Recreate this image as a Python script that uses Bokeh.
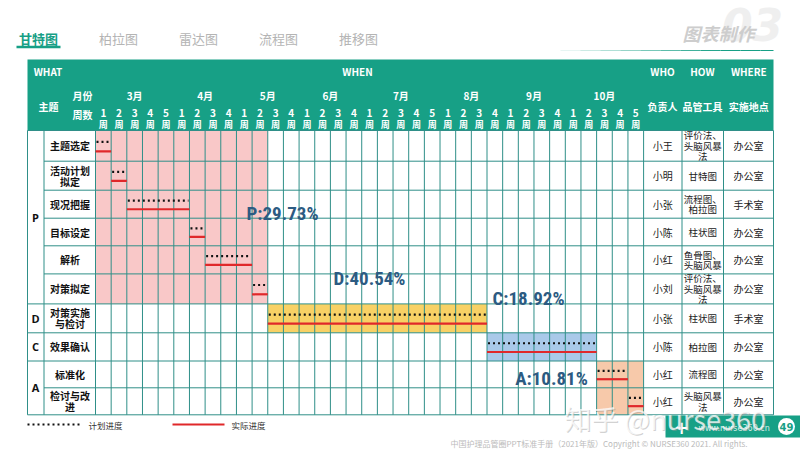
from bokeh.plotting import figure
from bokeh.models import Range1d
from bokeh.core.properties import value
from bokeh.embed import file_html
from bokeh.resources import INLINE

# ---------------- data ----------------
tabs = ["甘特图", "柏拉图", "雷达图", "流程图", "推移图"]
months = ["3月", "4月", "5月", "6月", "7月", "8月", "9月", "10月"]
weeks_per_month = [5, 4, 4, 4, 5, 4, 4, 5]
phases = ["P", "D", "C", "A"]
phase_pct = ["P:29.73%", "D:40.54%", "C:18.92%", "A:10.81%"]
tasks = ["主题选定", "活动计划\n拟定", "现况把握", "目标设定", "解析", "对策拟定",
         "对策实施\n与检讨", "效果确认", "标准化", "检讨与改\n进"]
task_phase = ["P", "P", "P", "P", "P", "P", "D", "C", "A", "A"]
plan_start = [1, 2, 3, 7, 8, 11, 12, 26, 33, 35]
plan_end = [1, 2, 6, 7, 10, 11, 25, 32, 34, 35]
actual_start = [1, 2, 3, 7, 8, 11, 12, 26, 33, 35]
actual_end = [1, 2, 6, 7, 10, 11, 25, 32, 34, 35]
who = ["小王", "小明", "小张", "小陈", "小红", "小刘", "小张", "小陈", "小红", "小红"]
how = ["评价法、\n头脑风暴\n法", "甘特图", "流程图、\n柏拉图", "柱状图", "鱼骨图、\n头脑风暴",
       "评价法、\n头脑风暴\n法", "柱状图", "柏拉图", "流程图", "头脑风暴\n法"]
where = ["办公室", "办公室", "手术室", "办公室", "办公室", "办公室", "手术室", "办公室", "办公室", "办公室"]
legend_labels = ["计划进度", "实际进度"]

# ---------------- layout / style ----------------
TEAL = "#17a086"
GRID = "#2f8f88"
PCT_COLOR = "#2c5b82"
RED = "#e0282a"
PHASE_FILL = {"P": "#f9c8c8", "D": "#f8d165", "C": "#a9c9e9", "A": "#f7c9aa"}
CJK = "Noto Sans CJK SC"
NARROW = "Roboto Condensed"

X0, X_ITEM, XW, CW = 27, 43.5, 95, 15.66
NW = sum(weeks_per_month)
X_WHO = XW + NW * CW
X_HOW, X_WHERE, X1 = 681.5, 723, 773
Y_HEAD, Y_DATA = 59, 130
ROW_Y = [130, 160.7, 189.7, 217.7, 245.3, 273.4, 303.4, 332.3, 360.5, 387.3, 414.3]
PCT_POS = [(282, 213), (369, 278), (528, 298), (551, 378)]


def wl(w):  # left edge of 1-based week
    return XW + (w - 1) * CW


def wr(w):  # right edge of 1-based week
    return XW + w * CW


def split_lines(xs, ys, labels, spacing):
    ox, oy, ot = [], [], []
    for x, y, t in zip(xs, ys, labels):
        parts = t.split("\n")
        n = len(parts)
        for k, s in enumerate(parts):
            ox.append(x)
            oy.append(y + (k - (n - 1) / 2) * spacing)
            ot.append(s)
    return ox, oy, ot


p = figure(width=800, height=450, x_range=Range1d(0, 800), y_range=Range1d(450, 0),
           output_backend="svg", toolbar_location=None, min_border=0)
p.axis.visible = False
p.grid.visible = False
p.outline_line_color = None
p.background_fill_color = "white"

# ---- tabs ----
tab_x = [38 + 80 * i for i in range(len(tabs))]
p.text(x=tab_x[:1], y=[38], text=tabs[:1], text_font=value(CJK), text_font_size="13px",
       text_font_style="bold", text_color=TEAL, text_align="center", text_baseline="middle")
p.text(x=tab_x[1:], y=[38] * 4, text=tabs[1:], text_font=value(CJK), text_font_size="13px",
       text_color="#b4b4b4", text_align="center", text_baseline="middle")
p.segment(x0=[16], y0=[46.5], x1=[60], y1=[46.5], line_color=TEAL, line_width=2.5)

# top-right decoration
p.text(x=[752], y=[24], text=["03"], text_font=value("DejaVu Sans"), text_font_size="44px",
       text_font_style="bold italic", text_color="#efefef", text_align="center", text_baseline="middle")
p.text(x=[718], y=[32], text=["图表制作"], text_font=value(CJK), text_font_size="18px",
       text_font_style="bold italic", text_color="#cdcdcd", text_align="center", text_baseline="middle")
fade = [(560 + i * 20, 560 + (i + 1) * 20) for i in range(11)]
p.segment(x0=[a for a, b in fade], y0=[50] * len(fade), x1=[min(b, X1) for a, b in fade], y1=[50] * len(fade),
          line_color=TEAL, line_width=1, line_alpha=[min(1, 0.1 + 0.12 * i) for i in range(len(fade))])

# ---- header ----
p.quad(left=[X0], right=[X1], top=[Y_HEAD], bottom=[Y_DATA], fill_color=TEAL, line_color=None)
hdr = dict(text_font=value(CJK), text_color="white", text_font_style="bold",
           text_align="center", text_baseline="middle")
p.text(x=[47.5, 357, 662, 702, 748.3], y=[71] * 5,
       text=["WHAT", "WHEN", "WHO", "HOW", "WHERE"], text_font_size="10px", **hdr)
p.text(x=[48, 82, 82, 662, 702, 748.3], y=[106, 95, 114, 106, 106, 106],
       text=["主题", "月份", "周数", "负责人", "品管工具", "实施地点"], text_font_size="10px", **hdr)
m_x, w_num, cum = [], [], 0
for n in weeks_per_month:
    m_x.append(XW + (cum + n / 2) * CW)
    w_num += [str(i + 1) for i in range(n)]
    cum += n
p.text(x=m_x, y=[95] * len(months), text=months, text_font_size="10px", **hdr)
w_x = [XW + (i + 0.5) * CW for i in range(NW)]
p.text(x=w_x, y=[112] * NW, text=w_num, text_font_size="10px", **hdr)
p.text(x=w_x, y=[124] * NW, text=["周"] * NW, text_font_size="9px", **hdr)

# ---- phase shading (spans derived from task data) ----
for ph in phases:
    idx = [i for i, t in enumerate(task_phase) if t == ph]
    w0 = min(min(plan_start[i] for i in idx), min(actual_start[i] for i in idx))
    w1 = max(max(plan_end[i] for i in idx), max(actual_end[i] for i in idx))
    p.quad(left=[wl(w0)], right=[wr(w1)], top=[ROW_Y[idx[0]]], bottom=[ROW_Y[idx[-1] + 1]],
           fill_color=PHASE_FILL[ph], line_color=None)

# ---- grid ----
vx = [X0, X_ITEM] + [XW + i * CW for i in range(NW + 1)] + [X_HOW, X_WHERE, X1]
p.segment(x0=vx, y0=[Y_DATA] * len(vx), x1=vx, y1=[ROW_Y[-1]] * len(vx), line_color=GRID, line_width=1)
p.segment(x0=[X_ITEM] * len(ROW_Y), y0=ROW_Y, x1=[X1] * len(ROW_Y), y1=ROW_Y, line_color=GRID, line_width=1)
ph_bounds = [ROW_Y[0]] + [ROW_Y[i + 1] for i in range(len(tasks))
                         if i == len(tasks) - 1 or task_phase[i] != task_phase[i + 1]]
p.segment(x0=[X0] * len(ph_bounds), y0=ph_bounds, x1=[X_ITEM] * len(ph_bounds), y1=ph_bounds,
          line_color=GRID, line_width=1)

# ---- left labels ----
ph_y = []
for ph in phases:
    idx = [i for i, t in enumerate(task_phase) if t == ph]
    ph_y.append((ROW_Y[idx[0]] + ROW_Y[idx[-1] + 1]) / 2)
p.text(x=[35] * 4, y=ph_y, text=phases, text_font=value("Open Sans"), text_font_size="11px",
       text_font_style="bold", text_color="#111111", text_align="center", text_baseline="middle")
row_c = [(ROW_Y[i] + ROW_Y[i + 1]) / 2 for i in range(len(tasks))]
tx, ty, tt = split_lines([69.5] * len(tasks), row_c, tasks, 11)
p.text(x=tx, y=ty, text=tt, text_font=value(CJK), text_font_size="10px",
       text_font_style="bold", text_color="#111111", text_align="center", text_baseline="middle")

# ---- right columns ----
cell = dict(text_font=value(CJK), text_color="#222222", text_align="center", text_baseline="middle")
p.text(x=[(X_WHO + X_HOW) / 2] * len(who), y=row_c, text=who, text_font_size="10px", **cell)
hx, hy, ht = split_lines([(X_HOW + X_WHERE) / 2] * len(how), row_c, how, 10.5)
p.text(x=hx, y=hy, text=ht, text_font_size="9.5px", **cell)
p.text(x=[(X_WHERE + X1) / 2] * len(where), y=row_c, text=where, text_font_size="10px", **cell)

# ---- plan / actual bars ----
plan_y = [ROW_Y[i] + 0.37 * (ROW_Y[i + 1] - ROW_Y[i]) for i in range(len(tasks))]
act_y = [ROW_Y[i] + 0.68 * (ROW_Y[i + 1] - ROW_Y[i]) for i in range(len(tasks))]
p.segment(x0=[wl(s) + 1 for s in plan_start], y0=plan_y, x1=[wr(e) - 1 for e in plan_end], y1=plan_y,
          line_color="#111111", line_width=2.2, line_dash="2 3", line_cap="butt")
p.segment(x0=[wl(s) for s in actual_start], y0=act_y, x1=[wr(e) for e in actual_end], y1=act_y,
          line_color=RED, line_width=2.2)

# ---- phase percentages ----
p.text(x=[a for a, b in PCT_POS], y=[b for a, b in PCT_POS], text=phase_pct,
       text_font=value(NARROW), text_font_size="19px", text_font_style="bold",
       text_color=PCT_COLOR, text_align="center", text_baseline="middle")

# ---- legend ----
p.segment(x0=[27], y0=[424], x1=[80], y1=[424], line_color="#111111", line_width=2.2,
          line_dash="2 3", line_cap="butt")
p.segment(x0=[172], y0=[424], x1=[224], y1=[424], line_color=RED, line_width=2.2)
p.text(x=[88, 231], y=[424, 424], text=legend_labels, text_font=value(CJK), text_font_size="8.5px",
       text_color="#333333", text_align="left", text_baseline="middle")

# ---- footer decorations ----
p.quad(left=[665], right=[800], top=[415], bottom=[437], fill_color=TEAL, line_color=None)
p.text(x=[681], y=[427], text=["+"], text_font=value("DejaVu Sans"), text_font_size="17px",
       text_font_style="bold", text_color="white", text_align="center", text_baseline="middle")
p.text(x=[698], y=[428], text=["www.nurse360.cn"], text_font=value("DejaVu Sans"), text_font_size="8px",
       text_color="#d8efea", text_align="left", text_baseline="middle")
p.scatter(x=[786], y=[426], size=17, marker="circle", fill_color="white", line_color=None)
p.text(x=[786], y=[426.5], text=["49"], text_font=value("DejaVu Sans"), text_font_size="10px",
       text_font_style="bold", text_color=TEAL, text_align="center", text_baseline="middle")
p.text(x=[565], y=[419], text=["知乎 @nurse360"], text_font=value(CJK), text_font_size="27px",
       text_color="#9a9a9a", text_alpha=0.45, text_align="left", text_baseline="middle")
p.text(x=[564], y=[418], text=["知乎 @nurse360"], text_font=value(CJK), text_font_size="27px",
       text_color="white", text_alpha=0.75, text_align="left", text_baseline="middle")
p.text(x=[450], y=[443], text=["中国护理品管圈PPT标准手册（2021年版）Copyright © NURSE360 2021. All rights."],
       text_font=value(CJK), text_font_size="8px", text_color="#bbbbbb", text_align="left",
       text_baseline="middle")

open("out.html", "w").write(file_html(p, INLINE))
